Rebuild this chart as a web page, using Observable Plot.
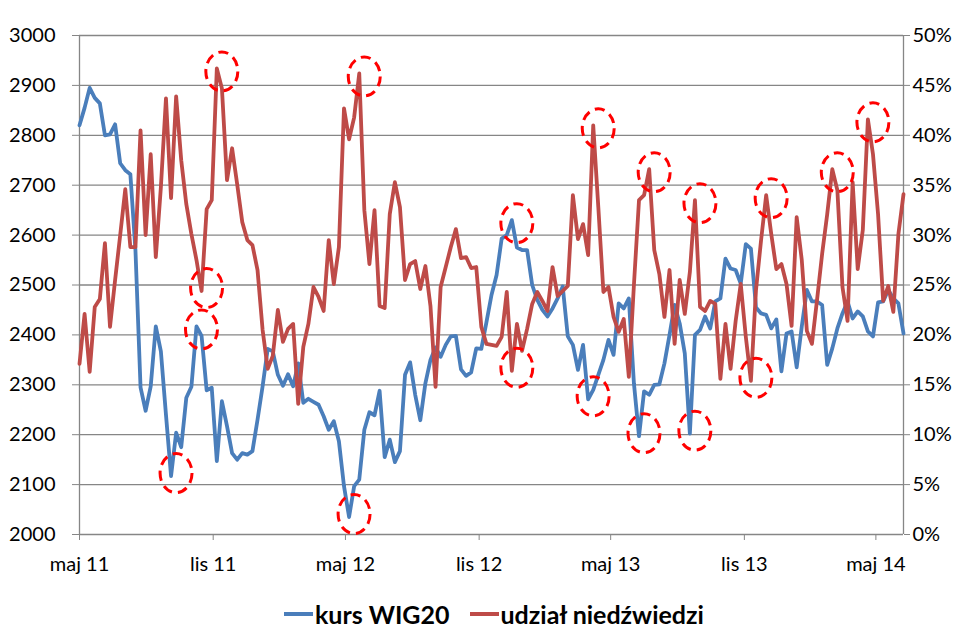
<!DOCTYPE html>
<html>
<head>
<meta charset="utf-8">
<script src="https://cdn.jsdelivr.net/npm/d3@7"></script>
<script src="https://cdn.jsdelivr.net/npm/@observablehq/plot@0.6"></script>
<style>
  html, body { margin: 0; padding: 0; background: #fff; }
  #chart { position: relative; width: 978px; height: 639px; font-family: Lato, sans-serif; }
  #legend { position: absolute; top: 599px; left: 284px; display: flex; align-items: center;
            font-family: Lato, sans-serif; font-weight: bold; font-size: 25px; color: #000; white-space: nowrap; }
  #legend .sw { display: inline-block; width: 29px; height: 4px; margin-right: 2px; }
  #legend .item { display: flex; align-items: center; margin-right: 20px; }
</style>
</head>
<body>
<div id="chart"></div>
<script>
// Weekly observations, first week starting 1 May 2011
const firstWeek = "2011-05-01";

// WIG20 index level (left axis)
const wig20 = [
  2820, 2855, 2895, 2875, 2864, 2800, 2802, 2822, 2744, 2730,
  2722, 2570, 2295, 2248, 2297, 2417, 2367, 2240, 2117, 2204,
  2175, 2274, 2296, 2417, 2398, 2289, 2294, 2147, 2267, 2217,
  2163, 2150, 2163, 2160, 2167, 2230, 2297, 2372, 2367, 2320,
  2298, 2321, 2297, 2343, 2264, 2272, 2266, 2260, 2237, 2210,
  2227, 2187, 2097, 2035, 2097, 2110, 2210, 2245, 2239, 2288,
  2155, 2190, 2145, 2167, 2320, 2345, 2280, 2229, 2303, 2350,
  2375, 2356, 2380, 2397, 2398, 2331, 2318, 2325, 2373, 2372,
  2425, 2480, 2520, 2593, 2600, 2630, 2575, 2570, 2570, 2500,
  2470, 2450, 2437, 2453, 2473, 2497, 2397, 2380, 2330, 2380,
  2271, 2290, 2320, 2350, 2390, 2360, 2463, 2453, 2473, 2303,
  2197, 2287, 2280, 2300, 2301, 2343, 2400, 2460, 2423, 2363,
  2202, 2400, 2410, 2437, 2413, 2467, 2473, 2553, 2533, 2530,
  2503, 2582, 2573, 2455, 2443, 2440, 2413, 2431, 2327, 2403,
  2407, 2335, 2417, 2490, 2467, 2467, 2460, 2340, 2373, 2413,
  2443, 2467, 2433, 2447, 2437, 2407, 2397, 2465, 2467, 2490,
  2473, 2463, 2403
];

// Share of bears in the sentiment survey, % (right axis)
const bearShare = [
  17.1, 22.1, 16.3, 22.8, 23.6, 29.2, 20.8, 25.5, 30.0, 34.6,
  28.8, 28.8, 40.5, 30.0, 38.1, 27.8, 34.8, 43.7, 33.7, 43.9,
  37.5, 33.1, 30.1, 27.5, 24.4, 32.6, 33.5, 46.7, 44.7, 35.5,
  38.7, 35.1, 31.3, 29.5, 29.0, 26.5, 20.5, 16.6, 17.9, 22.5,
  19.3, 20.6, 21.1, 13.1, 18.8, 21.1, 24.8, 23.8, 22.4, 29.5,
  25.1, 28.8, 42.7, 39.6, 41.8, 46.2, 32.5, 27.1, 32.5, 22.9,
  22.7, 32.1, 35.3, 32.8, 25.5, 27.1, 27.4, 24.6, 26.9, 22.9,
  14.8, 24.8, 26.8, 28.8, 30.6, 27.7, 27.8, 26.7, 26.8, 20.8,
  19.1, 19.0, 18.9, 19.8, 24.3, 16.4, 21.1, 18.4, 20.6, 23.1,
  24.3, 23.4, 22.4, 26.8, 23.9, 24.4, 24.9, 34.0, 29.6, 31.1,
  28.0, 41.0, 32.8, 24.3, 24.8, 21.8, 20.3, 21.6, 15.8, 25.0,
  33.5, 34.0, 36.6, 28.5, 26.1, 21.8, 26.5, 19.1, 25.5, 22.1,
  26.3, 33.5, 22.8, 22.4, 23.4, 23.1, 15.6, 21.1, 16.6, 21.4,
  25.1, 19.8, 15.4, 24.5, 29.5, 34.0, 30.1, 26.6, 27.1, 25.1,
  20.9, 31.8, 27.5, 20.4, 19.1, 23.5, 28.1, 32.1, 36.6, 34.5,
  24.8, 21.4, 35.3, 26.6, 30.5, 41.6, 38.1, 32.1, 23.4, 24.9,
  22.3, 30.1, 34.1
];

// Weeks singled out with dashed rings (indices into the series)
const bearPeakWeeks = [27, 55, 101, 112, 121, 135, 148, 155];
const bearTroughWeeks = [24, 85, 132];
const wigPeakWeeks = [23, 85];
const wigTroughWeeks = [18, 53, 100, 110, 120];

// Axes
const xTickDates = ["2011-05-01", "2011-11-01", "2012-05-01", "2012-11-01", "2013-05-01", "2013-11-01", "2014-05-01"];
const xTickLabels = ["maj 11", "lis 11", "maj 12", "lis 12", "maj 13", "lis 13", "maj 14"];
const xDomain = ["2011-05-01", "2014-06-08"];
const wigTicks = [2000, 2100, 2200, 2300, 2400, 2500, 2600, 2700, 2800, 2900, 3000];
const pctTicks = [0, 5, 10, 15, 20, 25, 30, 35, 40, 45, 50];

const seriesNames = ["kurs WIG20", "udział niedźwiedzi"];
const seriesColors = ["#4A7EBB", "#BE4B48"];

// Right axis shares the left scale: 0% ↔ 2000, 50% ↔ 3000
const wigMin = 2000, wigMax = 3000, pctMax = 50;
const pctToWig = p => wigMin + p * (wigMax - wigMin) / pctMax;

const start = new Date(firstWeek);
const weekDate = i => d3.utcDay.offset(start, 7 * i);
const wigRows = wig20.map((v, i) => ({date: weekDate(i), value: v}));
const bearRows = bearShare.map((v, i) => ({date: weekDate(i), value: pctToWig(v)}));

const tickDates = xTickDates.map(d => new Date(d));
const labelFor = d => xTickLabels[tickDates.findIndex(t => +t === +d)];

// Hand-drawn style ring: an upright ellipse
const ring = {
  draw(ctx, size) {
    const ry = Math.sqrt(size / Math.PI), rx = ry * 0.82, k = 0.5523;
    ctx.moveTo(rx, 0);
    ctx.bezierCurveTo(rx, ry * k, rx * k, ry, 0, ry);
    ctx.bezierCurveTo(-rx * k, ry, -rx, ry * k, -rx, 0);
    ctx.bezierCurveTo(-rx, -ry * k, -rx * k, -ry, 0, -ry);
    ctx.bezierCurveTo(rx * k, -ry, rx, -ry * k, rx, 0);
    ctx.closePath();
  }
};
const ringStyle = {x: "date", y: "value", r: 19.5, symbol: ring, fill: "none",
  stroke: "#FF0000", strokeWidth: 3, strokeDasharray: "10,6", dx: 5};

const peaks = [...bearPeakWeeks.map(i => bearRows[i]), ...wigPeakWeeks.map(i => wigRows[i])];
const troughs = [...bearTroughWeeks.map(i => bearRows[i]), ...wigTroughWeeks.map(i => wigRows[i])];

const grid = "#868686";

const plot = Plot.plot({
  width: 978,
  height: 590,
  marginTop: 35,
  marginBottom: 56,
  marginLeft: 79,
  marginRight: 75,
  style: {fontFamily: "Lato, sans-serif", fontSize: "20px", color: "#000", background: "#fff"},
  x: {type: "utc", domain: xDomain.map(d => new Date(d))},
  y: {domain: [wigMin, wigMax]},
  marks: [
    Plot.gridY(wigTicks, {stroke: grid, strokeOpacity: 1, strokeWidth: 1.3}),
    Plot.ruleX(xDomain.map(d => new Date(d)), {stroke: grid, strokeWidth: 1.3}),
    Plot.axisY(wigTicks, {anchor: "left", tickSize: 7, tickPadding: 17, stroke: grid, fill: "#000",
      label: null, tickFormat: d => String(d)}),
    Plot.axisY(pctTicks.map(pctToWig), {anchor: "right", tickSize: 6, tickPadding: 3, stroke: grid, fill: "#000",
      label: null, tickFormat: d => `${Math.round((d - wigMin) * pctMax / (wigMax - wigMin))}%`}),
    Plot.axisX(tickDates, {anchor: "bottom", tickSize: 6, tickPadding: 16, stroke: grid, fill: "#000",
      label: null, tickFormat: labelFor}),
    Plot.line(wigRows, {x: "date", y: "value", stroke: seriesColors[0], strokeWidth: 3.8, strokeLinejoin: "round"}),
    Plot.line(bearRows, {x: "date", y: "value", stroke: seriesColors[1], strokeWidth: 3.8, strokeLinejoin: "round"}),
    Plot.dot(peaks, {...ringStyle, dy: 3}),
    Plot.dot(troughs, {...ringStyle, dy: -3})
  ]
});

const chart = document.getElementById("chart");
chart.appendChild(plot);

const legend = document.createElement("div");
legend.id = "legend";
seriesNames.forEach((name, i) => {
  const item = document.createElement("span");
  item.className = "item";
  const sw = document.createElement("span");
  sw.className = "sw";
  sw.style.background = seriesColors[i];
  item.appendChild(sw);
  item.appendChild(document.createTextNode(name));
  legend.appendChild(item);
});
chart.appendChild(legend);
</script>
</body>
</html>
